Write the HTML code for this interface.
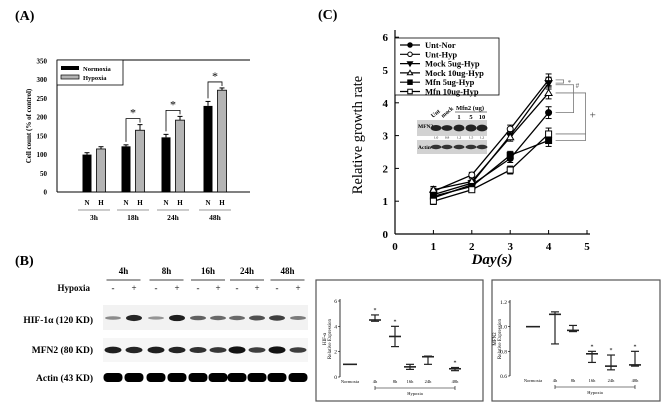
<!DOCTYPE html>
<html><head><meta charset="utf-8"><style>
html,body{margin:0;padding:0;background:#fff}
svg{display:block;font-family:"Liberation Serif",serif}
</style></head><body>
<svg id="fig" width="663" height="403" viewBox="0 0 663 403" xmlns="http://www.w3.org/2000/svg">
<text x="15" y="20" font-size="14" font-weight="bold">(A)</text>
<text x="318" y="19" font-size="14" font-weight="bold">(C)</text>
<text x="15" y="265" font-size="14" font-weight="bold">(B)</text>
<g id="ga"></g>
<g id="gc"></g>
<g id="gb"></g>
<g id="gh"></g>
<g id="gm"></g>
</svg>
<script>
// Panel A data
const aGroups = ["3h","18h","24h","48h"];
const aNorm = [100,122,146,230];
const aNormErr = [5,4,8,12];
const aHyp = [115,165,192,272];
const aHypErr = [6,15,10,6];
const aTicks = [0,50,100,150,200,250,300,350];
const aSig = [false,true,true,true];
// Panel C data
const cDays = [1,2,3,4];
const cSeries = ["Unt-Nor","Unt-Hyp","Mock 5ug-Hyp","Mock 10ug-Hyp","Mfn 5ug-Hyp","Mfn 10ug-Hyp"];
const cUntNor = [1.1,1.5,2.3,3.7];
const cUntHyp = [1.3,1.8,3.2,4.7];
const cMock5 = [1.2,1.55,3.0,4.6];
const cMock10 = [1.35,1.6,2.95,4.3];
const cMfn5 = [1.15,1.45,2.4,2.85];
const cMfn10 = [1.0,1.35,1.95,3.05];
const cErr = [0.1,0.08,0.12,0.18];
const cYTicks = [0,1,2,3,4,5,6];
const cXTicks = [0,1,2,3,4,5];
// Panel B data
const bTimes = ["4h","8h","16h","24h","48h"];
const bHif = [0.25,0.85,0.2,0.9,0.5,0.45,0.45,0.6,0.7,0.35];
const bMfn = [0.75,0.7,0.75,0.7,0.6,0.55,0.85,0.5,0.85,0.5];
// Expression charts
const eCats = ["Normoxia","4h","8h","16h","24h","48h"];
const hifMean = [1.0,4.5,3.2,0.8,1.6,0.65];
const hifLo = [1.0,4.4,2.4,0.6,1.0,0.5];
const hifHi = [1.0,4.9,4.0,1.0,1.65,0.75];
const hifTicks = [0,2,4,6];
const mfnMean = [1.0,1.1,0.97,0.78,0.68,0.69];
const mfnLo = [1.0,0.86,0.96,0.71,0.65,0.68];
const mfnHi = [1.0,1.12,1.01,0.80,0.77,0.80];
const mfnTicks = [0.6,0.8,1.0,1.2];

const NS="http://www.w3.org/2000/svg";
function mk(p,t,a,txt){const e=document.createElementNS(NS,t);for(const k in a)e.setAttribute(k,a[k]);if(txt!==undefined)e.textContent=txt;p.appendChild(e);return e;}

// ---- Panel A ----
(function(){
const g=document.getElementById('ga');
const y=v=>192-v*(131/350);
mk(g,'line',{x1:57,y1:60,x2:57,y2:192,stroke:'#000','stroke-width':1});
mk(g,'line',{x1:57,y1:192,x2:250,y2:192,stroke:'#000','stroke-width':1});
mk(g,'line',{x1:57,y1:60,x2:250,y2:60,stroke:'#000','stroke-width':1});
aTicks.forEach(t=>{const l=mk(g,'text',{x:47,y:y(t)+2.5,'font-size':7,'font-weight':'bold','text-anchor':'end'},t);

});
const yl=mk(g,'text',{x:31,y:126,'font-size':7,'font-weight':'bold','text-anchor':'middle',transform:'rotate(-90 31 126)'},'Cell count (% of control)');


const gx=[92,131,171,213];
aGroups.forEach((gr,i)=>{
 const xn=gx[i]-5,xh=gx[i]+9;
 const b1=mk(g,'rect',{x:xn-4.5,y:y(aNorm[i]),width:9,height:192-y(aNorm[i]),fill:'#000'});
 
 
 const b2=mk(g,'rect',{x:xh-4.5,y:y(aHyp[i]),width:9,height:192-y(aHyp[i]),fill:'#b4b4b4',stroke:'#000','stroke-width':0.8});
 
 
 [[xn,aNorm[i],aNormErr[i]],[xh,aHyp[i],aHypErr[i]]].forEach(([x,v,e])=>{
  mk(g,'line',{x1:x,y1:y(v),x2:x,y2:y(v+e),stroke:'#000'});
  mk(g,'line',{x1:x-2.5,y1:y(v+e),x2:x+2.5,y2:y(v+e),stroke:'#000'});
 });
 if(aSig[i]){const top=y(aHyp[i]+aHypErr[i])-6;
  mk(g,'path',{d:`M${xn} ${y(aNorm[i]+aNormErr[i])-3}V${top}H${xh}V${y(aHyp[i]+aHypErr[i])-2}`,fill:'none',stroke:'#000','stroke-width':0.8});
  mk(g,'text',{x:(xn+xh)/2,y:top-2,'font-size':12,'text-anchor':'middle'},'*');}
 mk(g,'text',{x:xn,y:205,'font-size':7,'font-weight':'bold','text-anchor':'middle'},'N');
 mk(g,'text',{x:xh,y:205,'font-size':7,'font-weight':'bold','text-anchor':'middle'},'H');
 mk(g,'line',{x1:xn-9,y1:210,x2:xh+9,y2:210,stroke:'#777','stroke-width':0.7});
 const tl=mk(g,'text',{x:(xn+xh)/2,y:220,'font-size':7.5,'font-weight':'bold','text-anchor':'middle'},gr);
 
 
});
const lg=mk(g,'g',{});


mk(lg,'rect',{x:57,y:60,width:66,height:25,fill:'#fff',stroke:'#000','stroke-width':0.8});
mk(lg,'rect',{x:61,y:66,width:18,height:4,fill:'#000'});
mk(lg,'rect',{x:61,y:75,width:18,height:4,fill:'#b4b4b4',stroke:'#000','stroke-width':0.7});
mk(lg,'text',{x:83,y:71,'font-size':6.5,'font-weight':'bold'},'Normoxia');
mk(lg,'text',{x:83,y:80,'font-size':6.5,'font-weight':'bold'},'Hypoxia');
})();

// ---- Panel C ----
(function(){
const g=document.getElementById('gc');
const x=d=>395+d*38.4, y=v=>234-v*32.8;
mk(g,'line',{x1:395,y1:30,x2:395,y2:234,stroke:'#000','stroke-width':1.2});
mk(g,'line',{x1:395,y1:234,x2:590,y2:234,stroke:'#000','stroke-width':1.2});
cYTicks.forEach(t=>{mk(g,'line',{x1:395,y1:y(t),x2:399,y2:y(t),stroke:'#000'});
 const l=mk(g,'text',{x:388,y:y(t)+4,'font-size':11,'font-weight':'bold','text-anchor':'end'},t);
 
 });
cXTicks.forEach(t=>{mk(g,'line',{x1:x(t),y1:234,x2:x(t),y2:230,stroke:'#000'});
 const l=mk(g,'text',{x:x(t),y:250,'font-size':11,'font-weight':'bold','text-anchor':'middle'},t);
 
 });
const xt=mk(g,'text',{x:492,y:264,'font-size':15,'font-weight':'bold','font-style':'italic','text-anchor':'middle'},'Day(s)');


const yt=mk(g,'text',{x:362,y:135,'font-size':14.5,'text-anchor':'middle',transform:'rotate(-90 362 135)'},'Relative growth rate');


const all=[cUntNor,cUntHyp,cMock5,cMock10,cMfn5,cMfn10];
const mks=['fc','oc','ftd','otu','fs','os'];
function marker(p,t,cx,cy,s){
 s=s||1;
 const f=t[0]==='f'?'#000':'#fff';
 if(t.endsWith('c'))mk(p,'circle',{cx,cy,r:3*s,fill:f,stroke:'#000'});
 else if(t.endsWith('s'))mk(p,'rect',{x:cx-3*s,y:cy-3*s,width:6*s,height:6*s,fill:f,stroke:'#000'});
 else if(t==='ftd')mk(p,'path',{d:`M${cx-3.5*s} ${cy-2.5*s}H${cx+3.5*s}L${cx} ${cy+3.5*s}Z`,fill:f,stroke:'#000'});
 else mk(p,'path',{d:`M${cx-3.5*s} ${cy+2.5*s}H${cx+3.5*s}L${cx} ${cy-3.5*s}Z`,fill:f,stroke:'#000'});
}
all.forEach((s,i)=>{
 const sg=mk(g,'g',{});
 
 
 mk(sg,'polyline',{points:s.map((v,j)=>x(cDays[j])+','+y(v)).join(' '),fill:'none',stroke:'#000','stroke-width':1.3});
 s.forEach((v,j)=>{const e=cErr[j];
  mk(sg,'line',{x1:x(cDays[j]),y1:y(v-e),x2:x(cDays[j]),y2:y(v+e),stroke:'#000'});
  mk(sg,'line',{x1:x(cDays[j])-3,y1:y(v+e),x2:x(cDays[j])+3,y2:y(v+e),stroke:'#000'});
  mk(sg,'line',{x1:x(cDays[j])-3,y1:y(v-e),x2:x(cDays[j])+3,y2:y(v-e),stroke:'#000'});
  marker(sg,mks[i],x(cDays[j]),y(v));});
});
const bx=x(4)+7;
mk(g,'path',{d:`M${bx} ${y(4.7)}H${bx+8}V${y(4.6)}H${bx}`,fill:'none',stroke:'#777','stroke-width':0.8});
mk(g,'text',{x:bx+12,y:y(4.6)+2,'font-size':7,fill:'#555'},'*');
mk(g,'path',{d:`M${bx} ${y(4.55)}H${bx+18}V${y(3.7)}H${bx}`,fill:'none',stroke:'#777','stroke-width':0.8});
mk(g,'text',{x:bx+20,y:y(4.45),'font-size':7,fill:'#555'},'#');
mk(g,'path',{d:`M${bx} ${y(4.3)}H${bx+30}V${y(2.85)}H${bx}M${bx} ${y(3.05)}H${bx+30}`,fill:'none',stroke:'#777','stroke-width':0.8});
mk(g,'text',{x:bx+34,y:y(3.65)+4,'font-size':11,fill:'#444'},'+');
const lg=mk(g,'g',{});


mk(lg,'rect',{x:395,y:38,width:104,height:57,fill:'#fff',stroke:'#000','stroke-width':0.8});
cSeries.forEach((n,i)=>{const yy=45+i*9.3;
 mk(lg,'line',{x1:400,y1:yy,x2:420,y2:yy,stroke:'#000','stroke-width':1.2});
 marker(lg,mks[i],410,yy,0.75);
 mk(lg,'text',{x:425,y:yy+3,'font-size':8.5,'font-weight':'bold'},n);});
const ib=mk(g,'g',{});


mk(ib,'rect',{x:417,y:120,width:70,height:16,fill:'#d2d2d2'});
mk(ib,'rect',{x:417,y:140,width:70,height:14,fill:'#d2d2d2'});
mk(ib,'text',{x:418,y:128,'font-size':5.5,'font-weight':'bold'},'MFN2');
mk(ib,'text',{x:418,y:149,'font-size':5.5,'font-weight':'bold'},'Actin');
const lanes=[436,447,459,471,482], mw=[0.7,0.6,0.9,1.0,0.9];
lanes.forEach((lx,i)=>{mk(ib,'ellipse',{cx:lx,cy:128,rx:5.5,ry:2+mw[i]*1.5,fill:'#222'});
 mk(ib,'ellipse',{cx:lx,cy:147,rx:5.5,ry:2.2,fill:'#333'});});
['1.0','0.8','1.2','1.5','1.2'].forEach((t,i)=>mk(ib,'text',{x:lanes[i],y:138.5,'font-size':3.5,'text-anchor':'middle'},t));
mk(ib,'text',{x:433,y:118,'font-size':6,'font-weight':'bold',transform:'rotate(-40 433 118)'},'Unt');
mk(ib,'text',{x:443,y:118,'font-size':6,'font-weight':'bold',transform:'rotate(-40 443 118)'},'mock');
mk(ib,'text',{x:470,y:110,'font-size':6.5,'font-weight':'bold','text-anchor':'middle'},'Mfn2 (ug)');
mk(ib,'line',{x1:455,y1:112,x2:487,y2:112,stroke:'#000','stroke-width':0.6});
['1','5','10'].forEach((t,i)=>mk(ib,'text',{x:lanes[i+2],y:119,'font-size':6.5,'font-weight':'bold','text-anchor':'middle'},t));
})();

// ---- Panel B blot ----
(function(){
const g=document.getElementById('gb');
const lx=[113,134,156,177,198,218,237,257,277,298];
bTimes.forEach((t,i)=>{const c=(lx[2*i]+lx[2*i+1])/2;
 const l=mk(g,'text',{x:c,y:274,'font-size':9,'font-weight':'bold','text-anchor':'middle'},t);
 
 
 mk(g,'line',{x1:c-17,y1:280,x2:c+17,y2:280,stroke:'#000','stroke-width':0.8});
 mk(g,'text',{x:lx[2*i],y:291,'font-size':9,'text-anchor':'middle'},'-');
 mk(g,'text',{x:lx[2*i+1],y:291,'font-size':9,'text-anchor':'middle'},'+');});
mk(g,'text',{x:90,y:291,'font-size':9,'font-weight':'bold','text-anchor':'end'},'Hypoxia');
[['HIF-1α (120 KD)',320],['MFN2 (80 KD)',350],['Actin (43 KD)',378]].forEach(([t,yy])=>{
 const l=mk(g,'text',{x:93,y:yy+3,'font-size':9.5,'font-weight':'bold','text-anchor':'end'},t);
 
 });
mk(g,'rect',{x:103,y:305,width:205,height:25,fill:'#f2f2f2'});
mk(g,'rect',{x:103,y:338,width:205,height:24,fill:'#f6f6f6'});
lx.forEach((x,i)=>{
 const h=mk(g,'ellipse',{cx:x,cy:318,rx:8,ry:1.2+bHif[i]*2.2,fill:'#000','fill-opacity':0.25+bHif[i]*0.7});
 
 
 const m=mk(g,'ellipse',{cx:x,cy:350,rx:8.5,ry:1.5+bMfn[i]*2.5,fill:'#000','fill-opacity':0.5+bMfn[i]*0.5});
 
 
 const a=mk(g,'rect',{x:x-9.5,y:373,width:19,height:9,rx:4,fill:'#000'});
 
 });
})();

// ---- expression charts ----
function expr(id,box,x0,xs,ticks,tmin,tmax,ytop,ybot,mean,lo,hi,lab,tickFmt,stars){
 const g=document.getElementById(id);
 mk(g,'rect',{x:box[0],y:box[1],width:box[2],height:box[3],fill:'#fff',stroke:'#555','stroke-width':1.2});
 const y=v=>ybot-(v-tmin)/(tmax-tmin)*(ybot-ytop);
 mk(g,'line',{x1:x0,y1:ytop-2,x2:x0,y2:ybot,stroke:'#000','stroke-width':0.8});
 ticks.forEach(t=>{mk(g,'line',{x1:x0-2,y1:y(t),x2:x0,y2:y(t),stroke:'#000','stroke-width':0.6});
  const l=mk(g,'text',{x:x0-3,y:y(t)+2,'font-size':5.5,'text-anchor':'end'},tickFmt(t));
  
  });
 mk(g,'text',{x:x0-14,y:(ytop+ybot)/2,'font-size':5,'text-anchor':'middle',transform:`rotate(-90 ${x0-14} ${(ytop+ybot)/2})`},lab);
 mk(g,'text',{x:x0-9,y:(ytop+ybot)/2,'font-size':5,'text-anchor':'middle',transform:`rotate(-90 ${x0-9} ${(ytop+ybot)/2})`},'Relative Expression');
 eCats.forEach((c,i)=>{const x=xs[i];
  const s=mk(g,'g',{});
  
  
  const w=i===0?7:6;
  mk(s,'line',{x1:x-w,y1:y(mean[i]),x2:x+w,y2:y(mean[i]),stroke:'#222','stroke-width':1.6});
  if(hi[i]!==lo[i]){mk(s,'line',{x1:x,y1:y(lo[i]),x2:x,y2:y(hi[i]),stroke:'#222','stroke-width':1.2});
   mk(s,'line',{x1:x-4,y1:y(hi[i]),x2:x+4,y2:y(hi[i]),stroke:'#222','stroke-width':1.2});
   mk(s,'line',{x1:x-4,y1:y(lo[i]),x2:x+4,y2:y(lo[i]),stroke:'#222','stroke-width':1.2});}
  if(stars[i])mk(g,'text',{x,y:y(hi[i])-3,'font-size':6,'text-anchor':'middle'},'*');
  mk(g,'text',{x,y:ybot+6,'font-size':4.5,'text-anchor':'middle'},c);});
 mk(g,'path',{d:`M${xs[1]} ${ybot+9}v4M${xs[1]} ${ybot+11}H${xs[5]}M${xs[5]} ${ybot+9}v4`,fill:'none',stroke:'#000','stroke-width':0.6});
 mk(g,'text',{x:(xs[1]+xs[5])/2,y:ybot+18,'font-size':4.5,'text-anchor':'middle'},'Hypoxia');
}
expr('gh',[316,280,167,121],340,[350,375,395,410,428,455],hifTicks,0,6,301,377,hifMean,hifLo,hifHi,'HIF-α',t=>t,[false,true,true,false,false,true]);
expr('gm',[492,280,168,121],510,[533,555,573,592,611,635],mfnTicks,0.6,1.2,302,376,mfnMean,mfnLo,mfnHi,'MFN2',t=>t.toFixed(1),[false,false,false,true,true,true]);
</script>
</body></html>
